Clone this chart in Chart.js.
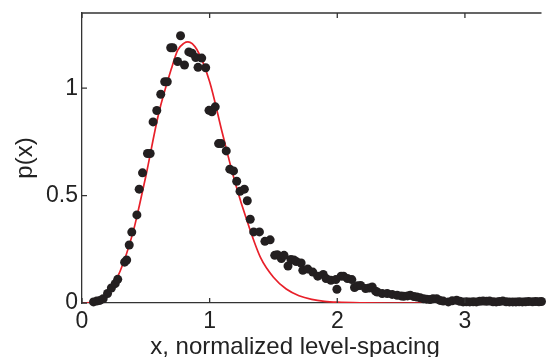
<!DOCTYPE html>
<html>
<head>
<meta charset="utf-8">
<script src="https://cdn.jsdelivr.net/npm/chart.js@4.4.1/dist/chart.umd.min.js"></script>
<style>
  body { margin: 0; background: #fff; }
  #wrap { width: 546px; height: 357px; }
</style>
</head>
<body>
<div id="wrap"><canvas id="levelChart"></canvas></div>
<script>
// measured level-spacing histogram (dots)
var dotX = [0.09, 0.115, 0.14, 0.166, 0.2, 0.23, 0.26, 0.28, 0.334, 0.35, 0.37, 0.39, 0.43, 0.448,
  0.474, 0.513, 0.534, 0.557, 0.586, 0.617, 0.648, 0.668, 0.695, 0.712, 0.749, 0.772, 0.803, 0.837,
  0.862, 0.891, 0.909, 0.938, 0.969, 0.995, 1.018, 1.044, 1.07, 1.09, 1.13, 1.158, 1.187, 1.212,
  1.238, 1.272, 1.295, 1.318, 1.345, 1.39, 1.433, 1.474, 1.51, 1.53, 1.562, 1.583, 1.614, 1.637,
  1.66, 1.678, 1.717, 1.73, 1.769, 1.808, 1.847, 1.89, 1.912, 1.95, 1.989, 1.997, 2.03, 2.049,
  2.08, 2.114, 2.135, 2.16, 2.183, 2.222, 2.25, 2.274, 2.3, 2.313, 2.352, 2.391, 2.43, 2.469, 2.5,
  2.52, 2.55, 2.572, 2.6, 2.624, 2.65, 2.676, 2.7, 2.727, 2.75, 2.779, 2.805, 2.83, 2.87, 2.9,
  2.935, 2.96, 2.986, 3.012, 3.038, 3.065, 3.09, 3.116, 3.142, 3.168, 3.193, 3.22, 3.245, 3.27,
  3.297, 3.323, 3.349, 3.375, 3.4, 3.425, 3.45, 3.475, 3.5, 3.53, 3.555, 3.58, 3.6];
var dotY = [0.005, 0.009, 0.012, 0.02, 0.044, 0.07, 0.09, 0.11, 0.19, 0.2, 0.27, 0.33, 0.41, 0.53,
  0.606, 0.696, 0.696, 0.843, 0.896, 0.972, 1.03, 1.03, 1.188, 1.188, 1.124, 1.244, 1.108, 1.169,
  1.163, 1.143, 1.097, 1.14, 1.095, 0.897, 0.89, 0.913, 0.742, 0.742, 0.708, 0.623, 0.615, 0.567,
  0.52, 0.53, 0.476, 0.39, 0.331, 0.331, 0.287, 0.294, 0.222, 0.225, 0.207, 0.222, 0.172, 0.203,
  0.2, 0.193, 0.186, 0.152, 0.158, 0.144, 0.125, 0.133, 0.114, 0.106, 0.109, 0.064, 0.125, 0.125,
  0.114, 0.109, 0.072, 0.08, 0.082, 0.067, 0.07, 0.075, 0.055, 0.051, 0.044, 0.044, 0.04, 0.036, 0.033,
  0.031, 0.033, 0.036, 0.03, 0.028, 0.024, 0.02, 0.018, 0.016, 0.02, 0.02, 0.012, 0.009, 0.005, 0.01,
  0.013, 0.008, 0.005, 0.006, 0.005, 0.006, 0.005, 0.008, 0.009, 0.008, 0.009, 0.006, 0.005, 0.007,
  0.009, 0.006, 0.005, 0.005, 0.005, 0.006, 0.005, 0.006, 0.007, 0.006, 0.007, 0.006, 0.007];

// fitted curve (red)
var fitX = [0, 0.1, 0.15, 0.2, 0.3, 0.4, 0.45, 0.5, 0.6, 0.7, 0.75, 0.8, 0.83, 0.9, 1.0, 1.1, 1.2,
  1.3, 1.4, 1.5, 1.6, 1.7, 1.8, 1.9, 2.0, 2.2, 2.4, 2.6, 3.0, 3.6];
var fitY = [0, 0.004, 0.014, 0.04, 0.15, 0.33, 0.455, 0.59, 0.88, 1.09, 1.177, 1.21, 1.216, 1.18,
  1.03, 0.79, 0.56, 0.37, 0.21, 0.12, 0.065, 0.034, 0.017, 0.008, 0.004, 0.001, 0, 0, 0, 0];

var xTicks = [0, 1, 2, 3];
var yTicks = [0, 0.5, 1];

var dots = dotX.map(function (x, i) { return { x: x, y: dotY[i] }; });
var fit = fitX.map(function (x, i) { return { x: x, y: fitY[i] }; });

var axisColor = "#333333";

var framePlugin = {
  id: "frame",
  afterDraw: function (chart) {
    var c = chart.ctx, a = chart.chartArea;
    var sx = chart.scales.x, sy = chart.scales.y;
    c.save();
    c.strokeStyle = axisColor;
    c.lineWidth = 1.3;
    c.beginPath();
    c.moveTo(a.left, a.top);
    c.lineTo(a.right, a.top);
    xTicks.forEach(function (t) {
      var px = sx.getPixelForValue(t);
      c.moveTo(px, a.bottom); c.lineTo(px, a.bottom - 5);
      c.moveTo(px, a.top); c.lineTo(px, a.top + 5);
    });
    yTicks.forEach(function (t) {
      var py = sy.getPixelForValue(t);
      c.moveTo(a.left, py); c.lineTo(a.left + 5, py);
    });
    c.stroke();
    c.fillStyle = "#222";
    c.font = "24px 'Liberation Sans', Arial, sans-serif";
    c.textAlign = "center";
    c.textBaseline = "alphabetic";
    c.fillText("x, normalized level-spacing", 295, 354);
    c.translate(32, 158);
    c.rotate(-Math.PI / 2);
    c.fillText("p(x)", 0, 0);
    c.restore();
  }
};

var ctx = document.getElementById("levelChart").getContext("2d");
var myChart = new Chart(ctx, {
  type: "scatter",
  data: {
    datasets: [
      {
        label: "data",
        data: dots,
        backgroundColor: "#231f20",
        borderWidth: 0,
        pointRadius: 4.5,
        clip: false,
      },
      {
        label: "fit",
        data: fit,
        showLine: true,
        borderColor: "#e8202a",
        borderWidth: 1.7,
        pointRadius: 0,
        tension: 0.4,
        cubicInterpolationMode: "monotone",
      },
    ],
  },
  options: {
    responsive: true,
    maintainAspectRatio: false,
    animation: false,
    layout: { padding: { top: 13, right: 0, left: 0, bottom: 0 } },
    plugins: { legend: { display: false }, tooltip: { enabled: false } },
    scales: {
      x: {
        type: "linear",
        min: 0,
        max: 3.6,
        afterFit: function (s) {
          s.height = 54;
          s.paddingLeft = 0; s.paddingRight = 0;
        },
        grid: { display: false, drawTicks: false },
        border: { display: true, color: axisColor, width: 1.3 },
        ticks: {
          stepSize: 1,
          includeBounds: false,
          padding: 5,
          color: "#222",
          font: { family: "'Liberation Sans', Arial, sans-serif", size: 23 },
          callback: function (v) { return String(v); },
        },
      },
      y: {
        type: "linear",
        min: 0,
        max: 1.35,
        afterFit: function (s) {
          s.width = 82;
          s.paddingTop = 0; s.paddingBottom = 0;
        },
        grid: { display: false, drawTicks: false },
        border: { display: true, color: axisColor, width: 1.3 },
        ticks: {
          stepSize: 0.5,
          includeBounds: false,
          padding: 4,
          color: "#222",
          font: { family: "'Liberation Sans', Arial, sans-serif", size: 23 },
          callback: function (v) { return String(v); },
        },
      },
    },
  },
  plugins: [framePlugin],
});
</script>
</body>
</html>
